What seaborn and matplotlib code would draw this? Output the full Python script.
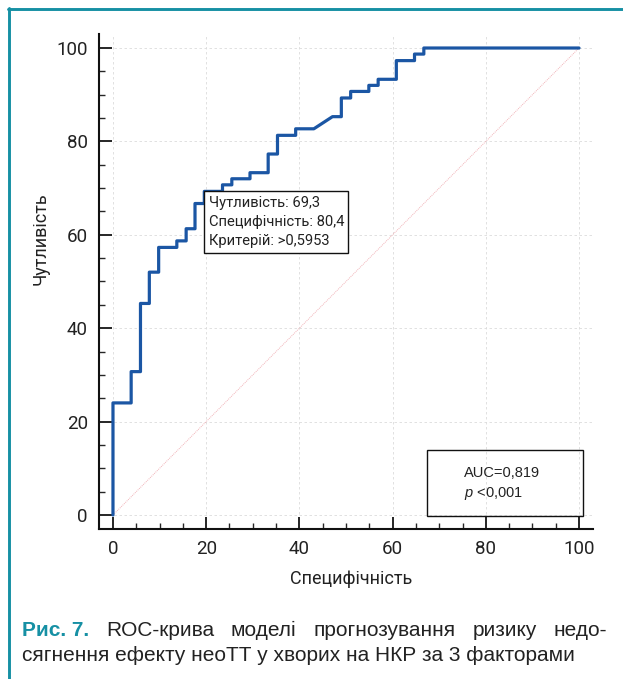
import pandas as pd
import matplotlib.pyplot as plt
import seaborn as sns
from matplotlib.patches import Rectangle
from matplotlib.lines import Line2D
from matplotlib.ticker import MultipleLocator

# ROC curve vertices: x = 100 - specificity, y = sensitivity
fpr = [0, 0, 3.9, 3.9, 5.9, 5.9, 7.8, 7.8, 9.8, 9.8, 13.7, 13.7, 15.7, 15.7,
       17.6, 17.6, 19.6, 19.6, 23.5, 23.5, 25.5, 25.5, 29.4, 29.4, 33.3, 33.3,
       35.3, 35.3, 39.2, 39.2, 43.1, 47.1, 49.0, 49.0, 51.0, 51.0, 54.9, 54.9,
       56.9, 56.9, 60.8, 60.8, 64.7, 64.7, 66.7, 66.7, 100]
tpr = [0, 24.0, 24.0, 30.7, 30.7, 45.3, 45.3, 52.0, 52.0, 57.3, 57.3, 58.7,
       58.7, 61.3, 61.3, 66.7, 66.7, 69.3, 69.3, 70.7, 70.7, 72.0, 72.0, 73.3,
       73.3, 77.3, 77.3, 81.3, 81.3, 82.7, 82.7, 85.3, 85.3, 89.3, 89.3, 90.7,
       90.7, 92.0, 92.0, 93.3, 93.3, 97.3, 97.3, 98.7, 98.7, 100, 100]

cut_sens = 69.3
cut_spec = 80.4
cut_crit = ">0,5953"
auc_text = "0,819"
p_text = "<0,001"

caption_label = "Рис. 7."
caption_line1 = "ROC-крива моделі прогнозування ризику недо-"
caption_line2 = "сягнення ефекту неоТТ у хворих на НКР за 3 факторами"

teal = "#1690a4"
blue = "#1b56a4"

sns.set_style("ticks")
plt.rcParams["font.family"] = ["Roboto", "DejaVu Sans"]
plt.rcParams["mathtext.fontset"] = "custom"
plt.rcParams["mathtext.it"] = "Liberation Sans:italic"
plt.rcParams["mathtext.rm"] = "Liberation Sans"

W, H = 623, 679
fig = plt.figure(figsize=(W / 100, H / 100), dpi=100)
ax = fig.add_axes([99 / W, 1 - 529 / H, 494 / W, 495 / H])

roc = pd.DataFrame({"fpr": fpr, "tpr": tpr})
sns.lineplot(data=roc, x="fpr", y="tpr", sort=False, estimator=None,
             color=blue, lw=2.3, ax=ax, zorder=3)
sns.lineplot(x=[0, 100], y=[0, 100], color="#f1b3b8", lw=0.7,
             linestyle=(0, (1, 1)), ax=ax, zorder=2)

ax.set_xlim(-3, 103)
ax.set_ylim(-3, 103)
ax.xaxis.set_major_locator(MultipleLocator(20))
ax.yaxis.set_major_locator(MultipleLocator(20))
ax.xaxis.set_minor_locator(MultipleLocator(5))
ax.yaxis.set_minor_locator(MultipleLocator(5))
ax.grid(True, which="major", color="#dcdcdc", ls=(0, (3, 3)), lw=0.6)
ax.set_axisbelow(True)

for s in ["top", "right"]:
    ax.spines[s].set_visible(False)
for s in ["left", "bottom"]:
    ax.spines[s].set_linewidth(1.5)
    ax.spines[s].set_color("#111111")

ax.tick_params(which="major", direction="in", length=9, width=1.4, pad=8,
               labelsize=13.5, labelcolor="#222222")
ax.tick_params(which="minor", direction="in", length=4.5, width=1.0)

ax.set_xlabel("Специфічність", fontsize=13, color="#222222")
ax.set_ylabel("Чутливість", fontsize=13, color="#222222")
ax.xaxis.set_label_coords(0.51, -0.083)
ax.yaxis.set_label_coords(-0.099, 0.586)

# cut-off annotation box, anchored at the optimal point
cut_x = 100 - cut_spec
ax.add_patch(Rectangle((cut_x, cut_sens - 13.1), 30.9, 13.1, fill=True,
                       facecolor="white", edgecolor="#111111", lw=1.0, zorder=4))
box_txt = f"Чутливість: {cut_sens:.1f}\nСпецифічність: {cut_spec:.1f}\nКритерій: {cut_crit}"
ax.annotate(box_txt.replace(".", ","),
            xy=(cut_x, cut_sens), xytext=(3.5, -3.5), textcoords="offset points",
            ha="left", va="top", fontsize=10.6, linespacing=1.45,
            color="#222222", zorder=5)

# AUC box
ax.add_patch(Rectangle((67.4, -0.2), 33.5, 14.1, fill=False,
                       edgecolor="#111111", lw=1.0, zorder=4))
ax.text(75.4, 9.0, f"AUC={auc_text}", fontsize=10.5, family="Liberation Sans",
        va="center", ha="left", color="#222222", zorder=5)
ax.text(75.4, 4.6, f"$p$ {p_text}", fontsize=10.5, family="Liberation Sans",
        va="center", ha="left", color="#222222", zorder=5)

# frame lines
fig.add_artist(Line2D([7.5 / W, 1], [1 - 8.7 / H] * 2,
                      transform=fig.transFigure, color=teal, lw=2.1))
fig.add_artist(Line2D([8.7 / W] * 2, [0, 1 - 7.5 / H],
                      transform=fig.transFigure, color=teal, lw=2.1))

# caption: first line justified between the margins
cap_font = dict(fontsize=15, family="Liberation Sans", va="baseline", ha="left")
left_px, right_px = 22, 607
words = [(caption_label, "bold", teal)] + \
        [(w, "normal", "#222222") for w in caption_line1.split()]
arts = [fig.text(0, 1 - 636 / H, w, weight=wt, color=c, **cap_font)
        for w, wt, c in words]
renderer = fig.canvas.get_renderer()
widths = [t.get_window_extent(renderer).width for t in arts]
gap = (right_px - left_px - sum(widths)) / (len(arts) - 1)
x = left_px
for t, w in zip(arts, widths):
    t.set_x(x / W)
    x += w + gap
fig.text(left_px / W, 1 - 661 / H, caption_line2, color="#222222", **cap_font)

fig.savefig("out.png", dpi=100)
